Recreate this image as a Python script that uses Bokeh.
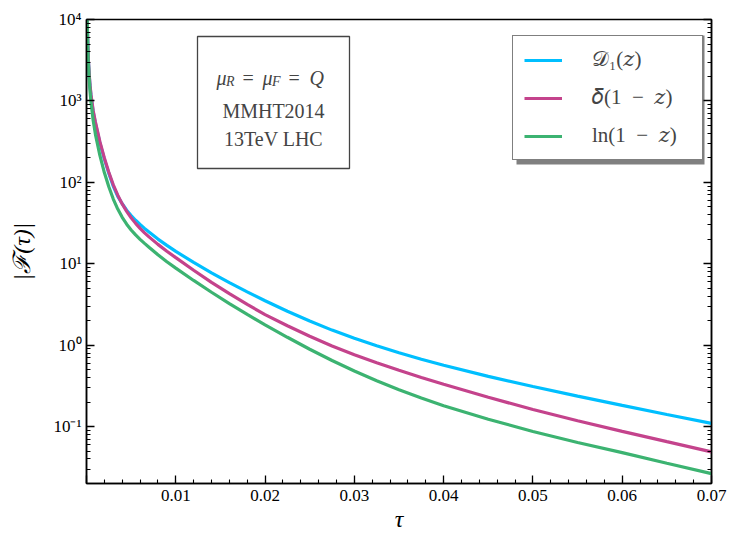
import math
from bokeh.plotting import figure
from bokeh.models import (Range1d, LogAxis, LogTicker, SingleIntervalTicker,
                          CustomJSTickFormatter, Legend, LegendItem, Label, ColumnDataSource)
from bokeh.embed import file_html
from bokeh.resources import INLINE

# ---- data (values given as decade exponents on the log axis) ----
tau = [0.00007, 0.0001, 0.00015, 0.0002, 0.0003, 0.0004, 0.0005, 0.00075, 0.001, 0.0015,
       0.002, 0.0025, 0.003, 0.0035, 0.004, 0.0045, 0.005, 0.0055, 0.006, 0.0065,
       0.007, 0.008, 0.009, 0.010, 0.012, 0.014, 0.016, 0.018, 0.020, 0.0225,
       0.025, 0.0275, 0.030, 0.0325, 0.035, 0.0375, 0.040, 0.045, 0.050, 0.055,
       0.060, 0.065, 0.070]
d1_z_log10 = [4.055, 3.885, 3.665, 3.515, 3.315, 3.175, 3.065, 2.865, 2.725, 2.485,
              2.285, 2.11, 1.952, 1.828, 1.737, 1.658, 1.592, 1.534, 1.482, 1.434,
              1.389, 1.303, 1.226, 1.152, 1.016, 0.888, 0.768, 0.655, 0.546, 0.416,
              0.296, 0.185, 0.084, -0.008, -0.093, -0.172, -0.246, -0.383, -0.508, -0.626,
              -0.740, -0.851, -0.961]
delta_1mz_log10 = [4.07, 3.90, 3.68, 3.53, 3.33, 3.19, 3.08, 2.88, 2.74, 2.50,
                   2.30, 2.125, 1.97, 1.8425, 1.735, 1.6435, 1.565, 1.496, 1.435, 1.380,
                   1.33, 1.238, 1.154, 1.075, 0.92, 0.772, 0.632, 0.50, 0.376, 0.239,
                   0.109, -0.010, -0.117, -0.216, -0.308, -0.396, -0.480, -0.640, -0.790, -0.929,
                   -1.059, -1.185, -1.310]
ln_1mz_log10 = [4.04, 3.86, 3.64, 3.49, 3.27, 3.11, 2.99, 2.76, 2.59, 2.33,
                2.12, 1.945, 1.795, 1.672, 1.57, 1.4855, 1.415, 1.354, 1.30, 1.250,
                1.203, 1.11, 1.025, 0.946, 0.795, 0.650, 0.511, 0.378, 0.250, 0.097,
                -0.050, -0.188, -0.317, -0.437, -0.548, -0.650, -0.743, -0.910, -1.060, -1.195,
                -1.320, -1.450, -1.578]
d1_z = [10 ** v for v in d1_z_log10]
delta_1mz = [10 ** v for v in delta_1mz_log10]
ln_1mz = [10 ** v for v in ln_1mz_log10]

EN = "\u2002"
series_labels = ["\U0001D49F\u2081(\U0001D467)",
                 "\U0001D6FF(1" + EN + "\u2212" + EN + "\U0001D467)",
                 "ln(1" + EN + "\u2212" + EN + "\U0001D467)" + EN + "\u2009"]
series_colors = ["#00BFFF", "#C4438C", "#3CB371"]
info_lines = ["MMHT2014", "13TeV LHC"]
x_label = "\u03C4"
y_label = "|\u2131(\u03C4)|"
X0, X1 = 0.0, 0.07
Y0, Y1 = 0.02, 1e4

SERIF = "Liberation Serif"

# frame position in page pixels (used only to place decorations)
FL, FR, FT, FB = 86, 711, 19, 483
LY0, LY1 = math.log10(Y0), math.log10(Y1)


def tx(px):
    return X0 + (px - FL) / (FR - FL) * (X1 - X0)


def ty(py):
    return 10 ** (LY0 + (FB - py) / (FB - FT) * (LY1 - LY0))


p = figure(width=729, height=534, output_backend="svg", toolbar_location=None,
           x_range=Range1d(X0, X1), y_range=Range1d(Y0, Y1), y_axis_type="log",
           min_border_left=FL, min_border_right=729 - FR, min_border_top=FT,
           min_border_bottom=534 - FB)
p.grid.visible = False
p.background_fill_color = "white"
p.border_fill_color = "white"
p.outline_line_color = "black"
p.outline_line_width = 1.5

src = ColumnDataSource(dict(tau=tau, d1=d1_z, de=delta_1mz, ln=ln_1mz))
renderers = []
for col, color in zip(["d1", "de", "ln"], series_colors):
    r = p.line("tau", col, source=src, line_color=color, line_width=3.2)
    renderers.append(r)

# bottom axis
xa = p.xaxis[0]
xa.ticker = SingleIntervalTicker(interval=0.01, num_minor_ticks=5)
xa.formatter = CustomJSTickFormatter(code="return tick < 1e-9 ? '' : tick.toFixed(2);")
xa.axis_label = x_label
xa.axis_label_standoff = 2
# left axis
ya = p.yaxis[0]
ya.ticker = LogTicker(num_minor_ticks=10)
ya.formatter = CustomJSTickFormatter(code="""
const sup = {'-':'\u207B','0':'\u2070','1':'\u00B9','2':'\u00B2','3':'\u00B3','4':'\u2074',
             '5':'\u2075','6':'\u2076','7':'\u2077','8':'\u2078','9':'\u2079'};
const e = Math.round(Math.log10(tick));
return '10' + String(e).split('').map(c => sup[c]).join('');
""")
ya.axis_label = y_label
ya.axis_label_standoff = 15
for ax in (xa, ya):
    ax.major_tick_in = 8
    ax.major_tick_out = 0
    ax.minor_tick_in = 4
    ax.minor_tick_out = 0
    ax.axis_line_color = "black"
    ax.axis_line_width = 1.5
    ax.major_tick_line_width = 1.3
    ax.minor_tick_line_width = 1.1
    ax.major_label_text_font = SERIF
    ax.major_label_text_font_size = "17px"
    ax.major_label_text_color = "black"
    ax.axis_label_text_font = SERIF
    ax.axis_label_text_font_size = "24px"
    ax.axis_label_text_font_style = "italic"
    ax.axis_label_text_color = "black"
xa.major_label_standoff = 6
ya.major_label_standoff = 5

# right axis: ticks only (empty labels)
ra = LogAxis(ticker=LogTicker(num_minor_ticks=10),
             formatter=CustomJSTickFormatter(code="return '';"),
             major_label_text_font_size="10px", major_label_standoff=0,
             major_tick_in=8, major_tick_out=0, minor_tick_in=4, minor_tick_out=0,
             axis_line_width=1.5, major_tick_line_width=1.3, minor_tick_line_width=1.1)
p.add_layout(ra, "right")

# info box
p.quad(left=[tx(197)], right=[tx(349)], top=[ty(36)], bottom=[ty(168)],
       fill_color="white", line_color="#444444", line_width=1.3)
pieces = [("\u03BC", 216, 77, "20px"), ("R", 225.5, 81, "14px"), ("=", 242, 77, "20px"),
          ("\u03BC", 262, 77, "20px"), ("F", 271.5, 81, "14px"), ("=", 288, 77, "20px"),
          ("Q", 309, 77, "20px")]
for txt, px, py, fs in pieces:
    p.add_layout(Label(x=tx(px), y=ty(py), text=txt,
                       text_align="left", text_baseline="alphabetic", text_font=SERIF,
                       text_font_size=fs,
                       text_font_style="normal" if txt == "=" else "italic"))
for txt, py in zip(info_lines, [110, 138]):
    p.add_layout(Label(x=tx(273), y=ty(py), text=txt,
                       text_align="center", text_baseline="alphabetic", text_font=SERIF,
                       text_font_size="20px"))

# legend shadow + legend
p.quad(left=[tx(516)], right=[tx(704)], top=[ty(35)], bottom=[ty(164)],
       fill_color="#808080", line_color=None)
legend = Legend(items=[LegendItem(label=lab, renderers=[r]) for lab, r in zip(series_labels, renderers)],
                location=(512 - FL, FB - 160), padding=11, spacing=13, label_standoff=30,
                glyph_width=38, glyph_height=24, label_height=24,
                label_text_font="Liberation Serif, DejaVu Serif", label_text_font_size="21px",
                border_line_color="black", border_line_width=1.5,
                background_fill_color="white", background_fill_alpha=1.0)
p.add_layout(legend)

open("out.html", "w").write(file_html(p, INLINE))
